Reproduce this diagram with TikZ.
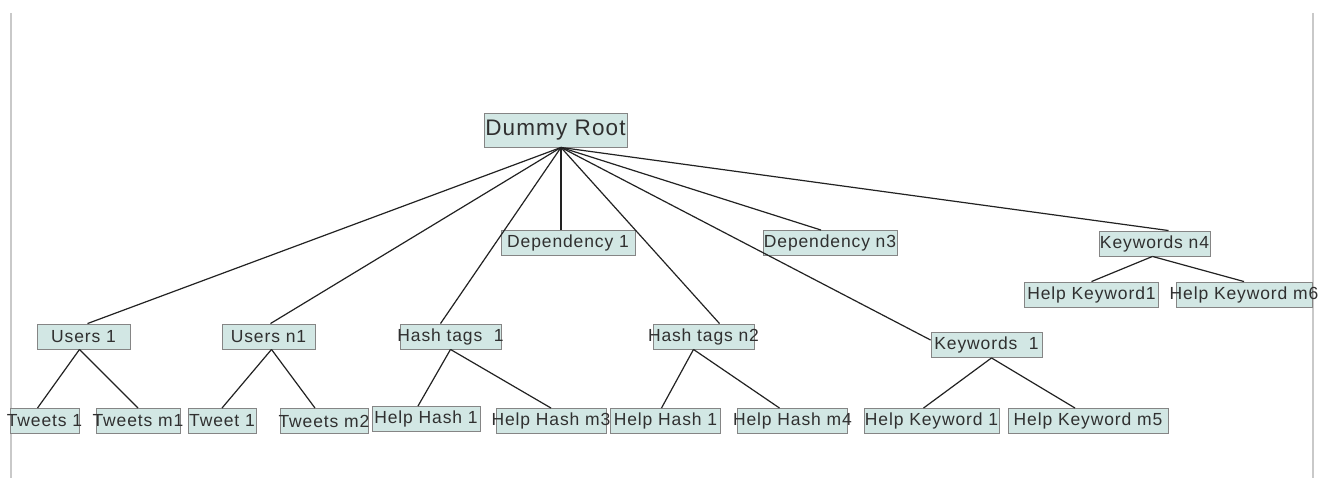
\documentclass[tikz,border=0pt]{standalone}
\usepackage{fontspec}
\setmainfont{Liberation Sans}[LetterSpace=5]
\usetikzlibrary{calc}
\definecolor{boxfill}{HTML}{D2E7E4}
\definecolor{boxline}{HTML}{858585}
\definecolor{edgeline}{HTML}{222222}
\definecolor{frameline}{HTML}{C9C9C9}
\definecolor{labeltext}{HTML}{303030}
% text that may run past its box, as the boxes keep a fixed size
\newcommand\boxtext[1]{\makebox[0pt]{#1}}
\begin{document}
\begin{tikzpicture}[x=1pt,y=-1pt,
  treebox/.style={draw=boxline, fill=boxfill, line width=0.9pt, inner sep=0pt,
    text=labeltext, font=\fontsize{17.5}{20}\selectfont, minimum height=25pt},
  rootbox/.style={treebox, font=\fontsize{22.5}{26}\selectfont, minimum height=34pt},
  link/.style={draw=edgeline, line width=1.2pt}]
\useasboundingbox (0,0) rectangle (1318,478);
\fill[white] (0,0) rectangle (1318,478);
% side rules
\draw[frameline, line width=1.5pt] (11,13) -- (11,478);
\draw[frameline, line width=1.5pt] (1313,13) -- (1313,478);

% root
\node[rootbox, minimum width=143pt] (root) at (555.5,130) {\boxtext{Dummy Root}};
\coordinate (hub) at ($(root.south)+(5.5,0)$);

% second level
\node[treebox, minimum width=134pt] (dep1) at (568,243) {\boxtext{Dependency 1}};
\node[treebox, minimum width=134pt] (depn3) at (830,243) {\boxtext{Dependency n3}};
\node[treebox, minimum width=111pt] (kwn4) at (1154.5,243.5) {\boxtext{Keywords n4}};
\node[treebox, minimum width=93pt] (users1) at (83.5,336.5) {\boxtext{Users 1}};
\node[treebox, minimum width=93pt] (usersn1) at (268.5,336.5) {\boxtext{Users n1}};
\node[treebox, minimum width=101pt] (hash1) at (450.5,336.5) {\boxtext{Hash tags\ \ 1}};
\node[treebox, minimum width=101pt] (hashn2) at (703.5,336.5) {\boxtext{Hash tags n2}};
\node[treebox, minimum width=111pt] (kw1) at (986.5,345) {\boxtext{Keywords\ \ 1}};

% third level
\node[treebox, minimum width=134pt] (hkw1) at (1091.5,294.5) {\boxtext{Help Keyword1}};
\node[treebox, minimum width=136pt] (hkwm6) at (1244,294.5) {\boxtext{Help Keyword m6}};
\node[treebox, minimum width=69pt] (tw1) at (44.5,421) {\boxtext{Tweets 1}};
\node[treebox, minimum width=84pt] (twm1) at (138,421) {\boxtext{Tweets m1}};
\node[treebox, minimum width=68pt] (tweet1) at (222,421) {\boxtext{Tweet 1}};
\node[treebox, minimum width=88pt] (twm2) at (324,421) {\boxtext{Tweets m2}};
\node[treebox, minimum width=108pt] (hh1a) at (426,419) {\boxtext{Help Hash 1}};
\node[treebox, minimum width=110pt] (hhm3) at (551,421) {\boxtext{Help Hash m3}};
\node[treebox, minimum width=110pt] (hh1b) at (665.5,421) {\boxtext{Help Hash 1}};
\node[treebox, minimum width=110pt] (hhm4) at (792.5,421) {\boxtext{Help Hash m4}};
\node[treebox, minimum width=135pt] (hkw1b) at (931.5,421) {\boxtext{Help Keyword 1}};
\node[treebox, minimum width=160pt] (hkwm5) at (1088,421) {\boxtext{Help Keyword m5}};

% links from the root
\draw[link] (hub) -- ($(users1.north)+(4,0)$);
\draw[link] (hub) -- ($(usersn1.north)+(2,0)$);
\draw[link] (hub) -- ($(hash1.north)+(-10,0)$);
\draw[link] (hub) -- (hub |- dep1.north);
\draw[link] (hub) -- ($(hashn2.north)+(16,0)$);
\draw[link] (hub) -- ($(kw1.west)+(0,-5)$);
\draw[link] (hub) -- ($(depn3.north)+(-9,0)$);
\draw[link] (hub) -- ($(kwn4.north)+(14,0)$);

% links to the leaves
\draw[link] ($(users1.south)+(-4,0)$) -- ($(tw1.north)+(-7,0)$);
\draw[link] ($(users1.south)+(-4,0)$) -- (twm1.north);
\draw[link] ($(usersn1.south)+(3,0)$) -- (tweet1.north);
\draw[link] ($(usersn1.south)+(3,0)$) -- ($(twm2.north)+(-9,0)$);
\draw[link] (hash1.south) -- ($(hh1a.north)+(-8,0)$);
\draw[link] (hash1.south) -- (hhm3.north);
\draw[link] ($(hashn2.south)+(-10,0)$) -- ($(hh1b.north)+(-4,0)$);
\draw[link] ($(hashn2.south)+(-10,0)$) -- ($(hhm4.north)+(-13,0)$);
\draw[link] ($(kw1.south)+(5,0)$) -- ($(hkw1b.north)+(-8,0)$);
\draw[link] ($(kw1.south)+(5,0)$) -- ($(hkwm5.north)+(-13,0)$);
\draw[link] ($(kwn4.south)+(-2,0)$) -- (hkw1.north);
\draw[link] ($(kwn4.south)+(-2,0)$) -- (hkwm6.north);
\end{tikzpicture}
\end{document}
